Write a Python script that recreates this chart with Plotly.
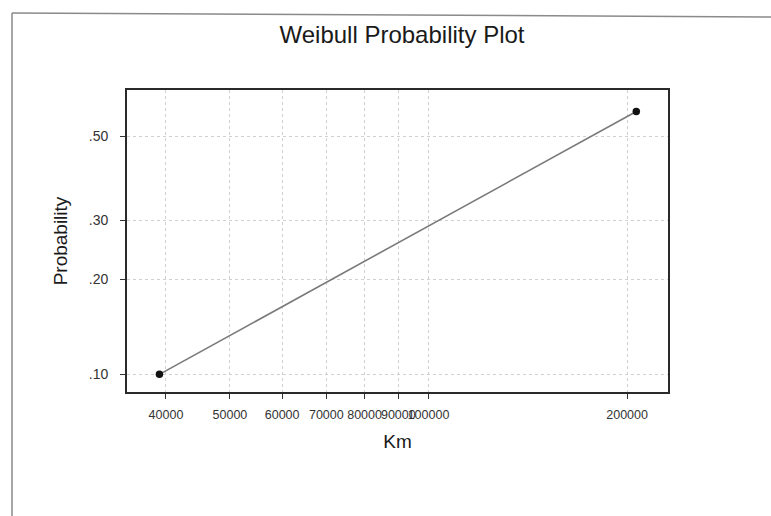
import numpy as np
import plotly.graph_objects as go

# Observed failure mileages and their plotting-position probabilities
km = [39100, 206500]
prob = [0.10, 0.57]

# Probability axis ticks
prob_ticks = [0.10, 0.20, 0.30, 0.50]
prob_tick_text = [".10", ".20", ".30", ".50"]

# Km axis ticks
km_ticks = [40000, 50000, 60000, 70000, 80000, 90000, 100000, 200000]
km_tick_text = [str(v) for v in km_ticks]


def weibull_scale(p):
    """Linearising transform of the Weibull CDF: ln(-ln(1 - p))."""
    p = np.asarray(p, dtype=float)
    return np.log(-np.log(1.0 - p))


W, H = 771, 516
L, R, T, B = 127, 103, 90, 124
pw, ph = W - L - R, H - T - B

fig = go.Figure()
fig.add_trace(go.Scatter(
    x=km,
    y=weibull_scale(prob),
    mode="lines+markers",
    line=dict(color="#7a7a7a", width=1.6),
    marker=dict(color="#111111", size=7.5, symbol="circle"),
    showlegend=False,
    hoverinfo="skip",
))

font_family = "Liberation Sans, Arial, sans-serif"

fig.update_layout(
    width=W,
    height=H,
    margin=dict(l=L, r=R, t=T, b=B, pad=0),
    paper_bgcolor="white",
    plot_bgcolor="white",
    font=dict(family=font_family, color="#222222"),
    title=dict(
        text="Weibull Probability Plot",
        font=dict(size=24, color="#1a1a1a", family=font_family),
        x=402 / W, xref="container", xanchor="center",
        y=1 - 35 / H, yref="container", yanchor="middle",
    ),
    xaxis=dict(
        type="log",
        range=[4.543, 5.363],
        tickvals=km_ticks,
        ticktext=km_tick_text,
        tickangle=0,
        tickfont=dict(size=12.5, color="#333333"),
        ticks="outside",
        ticklen=5,
        tickwidth=1.2,
        tickcolor="#333333",
        ticklabelstandoff=5,
        showgrid=True,
        gridcolor="#d0d0d0",
        griddash="dot",
        gridwidth=1,
        showline=True,
        linecolor="#2a2a2a",
        linewidth=1.8,
        mirror=True,
        zeroline=False,
        title=dict(text="Km", font=dict(size=19, color="#1a1a1a"), standoff=14),
    ),
    yaxis=dict(
        range=[-2.39, 0.0],
        tickvals=weibull_scale(prob_ticks),
        ticktext=prob_tick_text,
        tickfont=dict(size=14, color="#333333"),
        ticks="outside",
        ticklen=5,
        tickwidth=1.2,
        tickcolor="#333333",
        ticklabelstandoff=9,
        showgrid=True,
        gridcolor="#d0d0d0",
        griddash="dot",
        gridwidth=1,
        showline=True,
        linecolor="#2a2a2a",
        linewidth=1.8,
        mirror=True,
        zeroline=False,
        title=dict(text="Probability", font=dict(size=19, color="#1a1a1a"), standoff=16),
    ),
)


def px_x(px):
    return (px - L) / pw


def px_y(py):
    return (H - B - py) / ph


# Page frame around the figure
frame = dict(color="#8a8a8a", width=1.5)
fig.add_shape(type="line", xref="paper", yref="paper",
              x0=px_x(12), y0=px_y(13), x1=px_x(W), y1=px_y(17), line=frame)
fig.add_shape(type="line", xref="paper", yref="paper",
              x0=px_x(12), y0=px_y(13), x1=px_x(12), y1=px_y(H), line=frame)

fig.write_html("out.html")
